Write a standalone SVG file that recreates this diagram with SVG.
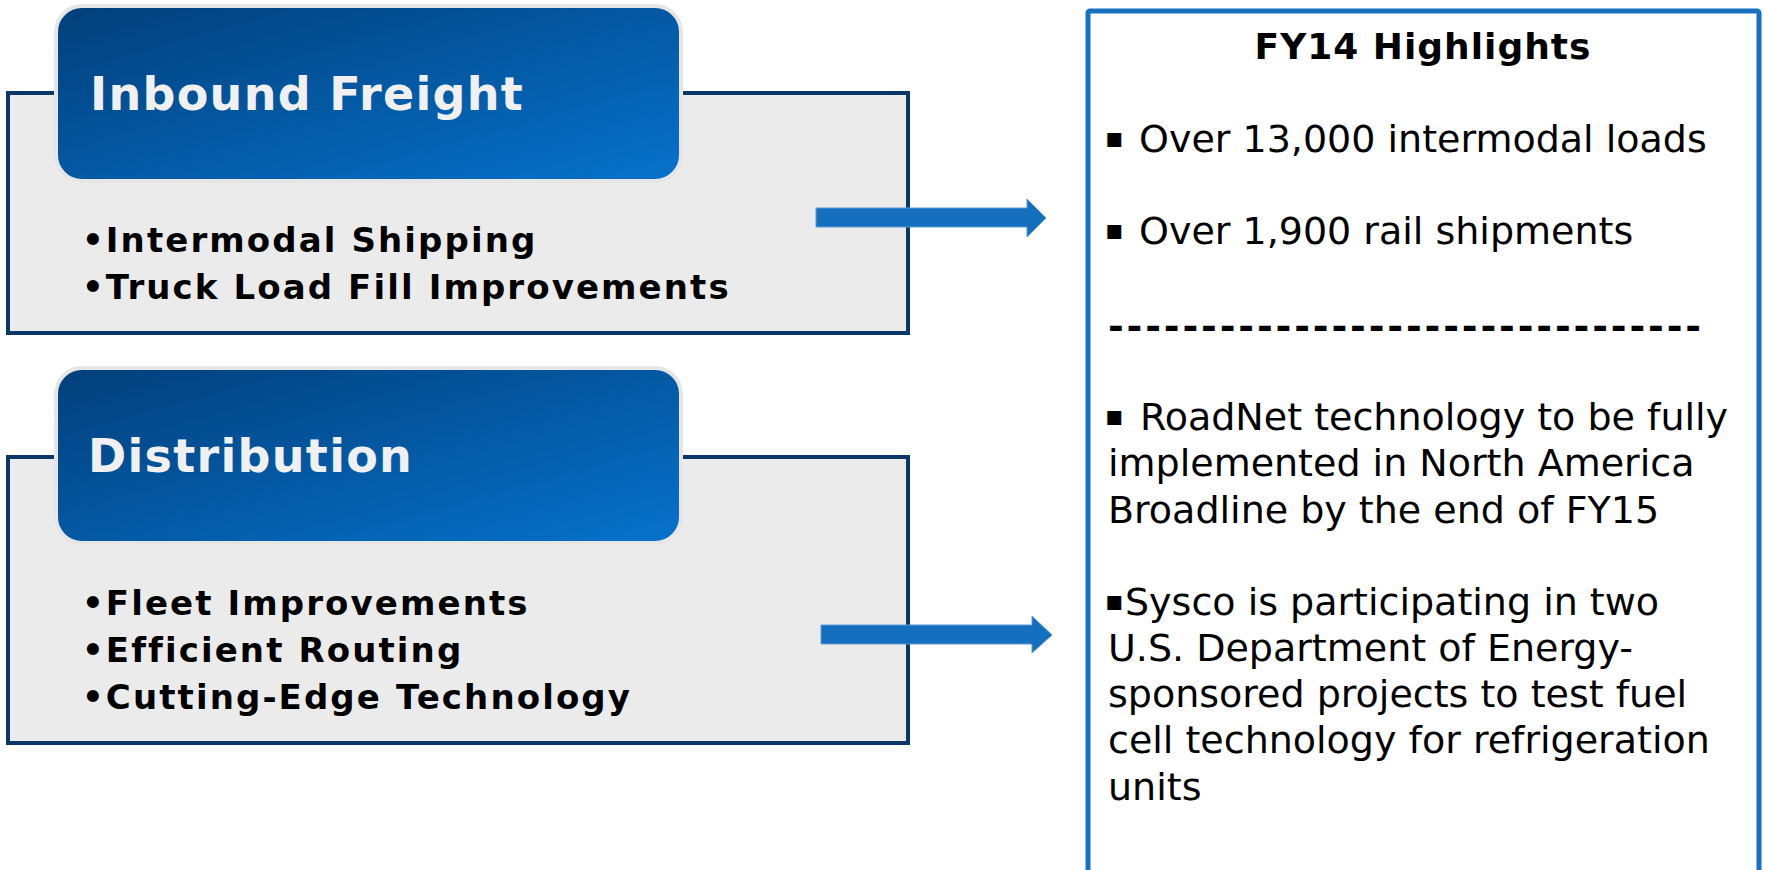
<svg xmlns="http://www.w3.org/2000/svg" width="1765" height="870" viewBox="0 0 1765 870">
<defs>
<linearGradient id="hdr" x1="0" y1="0" x2="1" y2="1">
<stop offset="0" stop-color="#023f7a"/>
<stop offset="1" stop-color="#0672cc"/>
</linearGradient>
<style>
.box{fill:#ebebeb;stroke:#0a3767;stroke-width:4}
.hdr{fill:url(#hdr);stroke:#e6e6e6;stroke-width:4}
.title{font-family:"DejaVu Sans",Verdana,sans-serif;font-weight:bold;font-size:46px;fill:#f0f0f0;letter-spacing:1.3px}
.item{font-family:"DejaVu Sans",Verdana,sans-serif;font-weight:bold;font-size:34px;fill:#000;letter-spacing:2.1px}
.panel{fill:#fff;stroke:#1870c0;stroke-width:5}
.ph{font-family:"DejaVu Sans",Verdana,sans-serif;font-weight:bold;font-size:36px;fill:#000;letter-spacing:1px}
.pt{font-family:"DejaVu Sans",Verdana,sans-serif;font-size:38px;fill:#000}
.sq{font-size:28px}
.dash{font-family:"DejaVu Sans",Verdana,sans-serif;font-weight:bold;font-size:38px;fill:#000;letter-spacing:2.85px}
.arrow{fill:#1470be;stroke:#5d9ad3;stroke-width:1}
</style>
</defs>
<rect width="1765" height="870" fill="#fff"/>

<g id="inbound">
<rect class="box" x="8" y="93" width="900" height="240"/>
<rect class="hdr" x="56" y="6" width="625" height="175" rx="26"/>
<text class="title" x="90" y="110">Inbound Freight</text>
<text class="item" x="82" y="252">•Intermodal Shipping</text>
<text class="item" x="82" y="299">•Truck Load Fill Improvements</text>
</g>

<g id="distribution">
<rect class="box" x="8" y="457" width="900" height="286"/>
<rect class="hdr" x="56" y="368" width="625" height="175" rx="26"/>
<text class="title" x="88" y="472">Distribution</text>
<text class="item" x="82" y="615">•Fleet Improvements</text>
<text class="item" x="82" y="662">•Efficient Routing</text>
<text class="item" x="82" y="709">•Cutting-Edge Technology</text>
</g>

<g id="highlights">
<rect class="panel" x="1088" y="11" width="671" height="880" rx="2"/>
<text class="ph" x="1423" y="59" text-anchor="middle">FY14 Highlights</text>
<text class="pt" x="1105" y="152"><tspan class="sq" y="147">▪</tspan><tspan x="1139" y="152">Over 13,000 intermodal loads</tspan></text>
<text class="pt" x="1105" y="244"><tspan class="sq" y="239">▪</tspan><tspan x="1139" y="244">Over 1,900 rail shipments</tspan></text>
<text class="dash" x="1108" y="339">--------------------------------</text>
<text class="pt" x="1105" y="430"><tspan class="sq" y="425">▪</tspan><tspan x="1140" y="430">RoadNet technology to be fully</tspan></text>
<text class="pt" x="1108" y="476">implemented in North America</text>
<text class="pt" x="1108" y="523">Broadline by the end of FY15</text>
<text class="pt" x="1105" y="615"><tspan class="sq" y="610">▪</tspan><tspan x="1125" y="615">Sysco is participating in two</tspan></text>
<text class="pt" x="1108" y="661">U.S. Department of Energy-</text>
<text class="pt" x="1108" y="707">sponsored projects to test fuel</text>
<text class="pt" x="1108" y="753">cell technology for refrigeration</text>
<text class="pt" x="1108" y="800">units</text>
</g>

<g id="connectors">
<polygon class="arrow" points="816,208 1027,208 1027,199 1046,218 1027,237 1027,227 816,227"/>
<polygon class="arrow" points="821,625 1032,625 1032,616 1052,635 1032,653 1032,644 821,644"/>
</g>
</svg>
